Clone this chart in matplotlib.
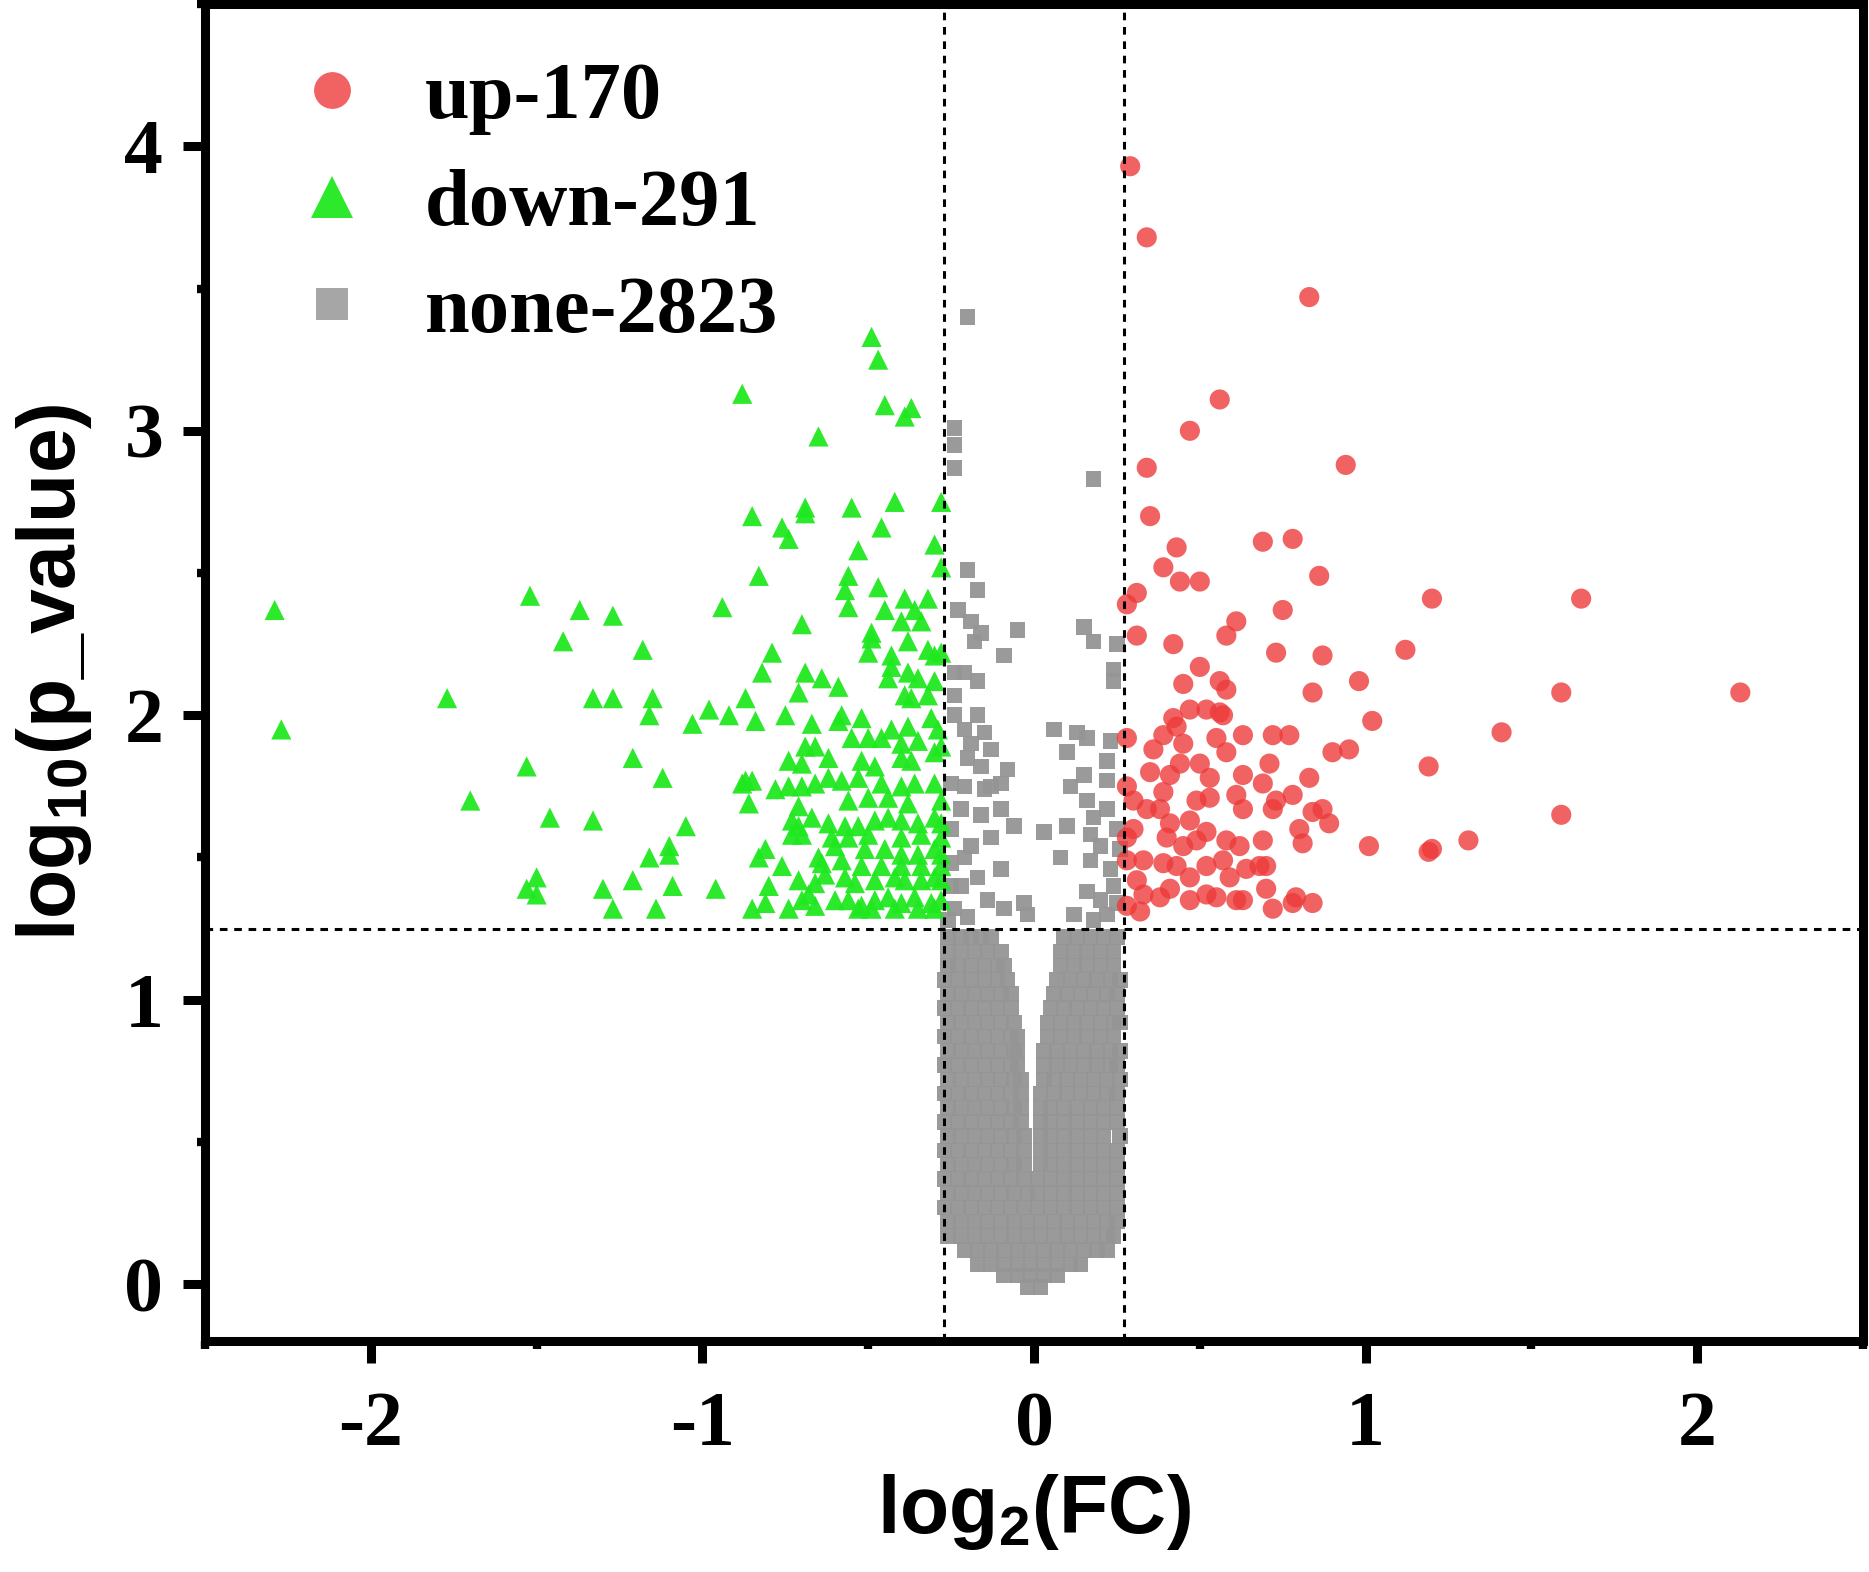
import matplotlib.pyplot as plt
from matplotlib.lines import Line2D
from matplotlib.ticker import MultipleLocator

plt.rcParams['mathtext.fontset'] = 'custom'
plt.rcParams['mathtext.rm'] = 'Liberation Sans:bold'
plt.rcParams['mathtext.it'] = 'Liberation Sans:bold'
plt.rcParams['mathtext.bf'] = 'Liberation Sans:bold'
plt.rcParams['axes.unicode_minus'] = False

# Dados (log2 FC, log10 p)
legenda = ["up-170", "down-291", "none-2823"]
fc_limite = 0.27
p_limite = 1.25

up_pts = [
    (0.29, 3.93), (0.34, 3.68), (0.83, 3.47), (0.56, 3.11), (0.47, 3.00), (0.94, 2.88), (0.34, 2.87),
    (0.35, 2.70), (0.43, 2.59), (0.69, 2.61), (0.78, 2.62), (0.39, 2.52), (0.44, 2.47), (0.50, 2.47),
    (0.86, 2.49), (0.31, 2.43), (0.28, 2.39), (0.75, 2.37), (0.61, 2.33), (0.58, 2.28), (0.31, 2.28),
    (0.42, 2.25), (0.73, 2.22), (0.87, 2.21), (1.12, 2.23), (0.50, 2.17), (0.45, 2.11), (0.56, 2.12),
    (0.58, 2.09), (0.84, 2.08), (0.98, 2.12), (0.47, 2.02), (0.52, 2.02), (0.56, 2.01), (0.57, 2.00),
    (0.42, 1.99), (1.02, 1.98), (0.43, 1.96), (0.39, 1.93), (0.45, 1.90), (0.55, 1.92), (0.63, 1.93),
    (0.72, 1.93), (0.77, 1.93), (0.28, 1.92), (0.36, 1.88), (0.58, 1.87), (0.90, 1.87), (0.95, 1.88),
    (0.44, 1.83), (0.50, 1.83), (0.71, 1.83), (0.35, 1.80), (0.41, 1.79), (0.53, 1.78), (0.63, 1.79),
    (0.69, 1.76), (0.83, 1.78), (0.28, 1.75), (0.39, 1.73), (0.30, 1.70), (0.34, 1.67), (0.49, 1.70),
    (0.53, 1.71), (0.61, 1.72), (0.63, 1.67), (0.72, 1.67), (0.73, 1.70), (0.78, 1.72), (0.87, 1.67),
    (0.84, 1.66), (0.89, 1.62), (0.80, 1.60), (0.81, 1.55), (1.01, 1.54), (0.38, 1.67), (0.47, 1.63),
    (0.41, 1.62), (0.30, 1.60), (0.28, 1.57), (0.40, 1.57), (0.45, 1.54), (0.49, 1.56), (0.52, 1.59),
    (0.58, 1.56), (0.62, 1.54), (0.69, 1.56), (0.28, 1.49), (0.33, 1.49), (0.39, 1.48), (0.43, 1.47),
    (0.47, 1.43), (0.52, 1.47), (0.57, 1.49), (0.64, 1.46), (0.68, 1.47), (0.70, 1.47), (0.59, 1.43),
    (0.70, 1.39), (0.31, 1.42), (0.33, 1.37), (0.38, 1.36), (0.41, 1.39), (0.47, 1.35), (0.52, 1.37),
    (0.55, 1.36), (0.61, 1.35), (0.63, 1.35), (0.72, 1.32), (0.79, 1.36), (0.78, 1.34), (0.84, 1.34),
    (0.28, 1.33), (0.32, 1.31), (1.20, 2.41), (1.65, 2.41), (1.59, 2.08), (2.13, 2.08), (1.41, 1.94),
    (1.19, 1.82), (1.59, 1.65), (1.19, 1.52), (1.20, 1.53), (1.31, 1.56),
]

down_pts = [
    (-2.29, 2.37), (-2.27, 1.95), (-1.52, 2.42), (-1.37, 2.37), (-1.27, 2.35), (-1.42, 2.26),
    (-1.18, 2.23), (-1.77, 2.06), (-1.33, 2.06), (-1.27, 2.06), (-1.15, 2.06), (-1.16, 2.00),
    (-1.03, 1.97), (-1.53, 1.82), (-1.21, 1.85), (-1.12, 1.78), (-1.70, 1.70), (-0.88, 1.76),
    (-1.46, 1.64), (-1.33, 1.63), (-1.05, 1.61), (-1.10, 1.54), (-1.16, 1.50), (-1.10, 1.51),
    (-1.50, 1.43), (-1.53, 1.39), (-1.50, 1.37), (-1.30, 1.39), (-1.21, 1.42), (-1.09, 1.40),
    (-1.27, 1.32), (-1.14, 1.32),
    (-0.49, 3.33), (-0.47, 3.25), (-0.88, 3.13), (-0.45, 3.09), (-0.37, 3.08), (-0.39, 3.05),
    (-0.65, 2.98), (-0.28, 2.75), (-0.42, 2.75), (-0.85, 2.70), (-0.69, 2.73), (-0.69, 2.71),
    (-0.55, 2.73), (-0.76, 2.66), (-0.74, 2.62), (-0.46, 2.66), (-0.53, 2.58), (-0.30, 2.60),
    (-0.28, 2.52), (-0.83, 2.49), (-0.56, 2.49), (-0.57, 2.44), (-0.47, 2.45), (-0.39, 2.41),
    (-0.32, 2.41), (-0.94, 2.38), (-0.56, 2.38), (-0.45, 2.37), (-0.36, 2.37), (-0.40, 2.33),
    (-0.34, 2.33), (-0.70, 2.32), (-0.49, 2.29),
    (-0.49, 2.27), (-0.38, 2.26), (-0.79, 2.22), (-0.50, 2.22), (-0.43, 2.21), (-0.32, 2.23),
    (-0.28, 2.22), (-0.30, 2.21), (-0.82, 2.15), (-0.69, 2.15), (-0.64, 2.13), (-0.59, 2.10),
    (-0.43, 2.17), (-0.44, 2.13), (-0.38, 2.15), (-0.35, 2.13), (-0.30, 2.12), (-0.87, 2.06),
    (-0.71, 2.08), (-0.39, 2.07), (-0.37, 2.06), (-0.32, 2.07), (-0.98, 2.02), (-0.92, 2.00),
    (-0.84, 1.98), (-0.75, 2.00), (-0.67, 1.97), (-0.58, 2.00), (-0.59, 1.98), (-0.52, 1.99),
    (-0.43, 1.95), (-0.38, 1.96), (-0.31, 1.99), (-0.29, 1.95), (-0.69, 1.89), (-0.66, 1.89),
    (-0.55, 1.92), (-0.50, 1.92), (-0.46, 1.92), (-0.40, 1.90), (-0.35, 1.91), (-0.28, 1.89),
    (-0.74, 1.84), (-0.70, 1.83), (-0.62, 1.85), (-0.52, 1.84), (-0.48, 1.82), (-0.40, 1.85),
    (-0.37, 1.84), (-0.30, 1.87), (-0.87, 1.77), (-0.85, 1.77), (-0.78, 1.74), (-0.74, 1.75),
    (-0.70, 1.75), (-0.66, 1.76), (-0.62, 1.78), (-0.58, 1.77), (-0.53, 1.78), (-0.46, 1.76),
    (-0.40, 1.75), (-0.36, 1.76), (-0.30, 1.76), (-0.86, 1.69), (-0.71, 1.68), (-0.56, 1.70),
    (-0.50, 1.71), (-0.44, 1.71), (-0.38, 1.69), (-0.28, 1.70), (-0.73, 1.63), (-0.71, 1.61),
    (-0.67, 1.64), (-0.62, 1.62), (-0.57, 1.61), (-0.53, 1.61), (-0.48, 1.63), (-0.44, 1.64),
    (-0.40, 1.63), (-0.35, 1.62), (-0.30, 1.64), (-0.28, 1.62), (-0.73, 1.58), (-0.70, 1.58),
    (-0.61, 1.57), (-0.56, 1.57), (-0.50, 1.58), (-0.40, 1.57), (-0.34, 1.58), (-0.28, 1.57),
    (-0.81, 1.53), (-0.76, 1.47), (-0.65, 1.50), (-0.60, 1.54), (-0.51, 1.53), (-0.45, 1.53),
    (-0.40, 1.51), (-0.35, 1.51), (-0.30, 1.53), (-0.28, 1.51), (-0.83, 1.50), (-0.64, 1.48),
    (-0.58, 1.49), (-0.52, 1.47), (-0.46, 1.47), (-0.40, 1.47), (-0.34, 1.47), (-0.28, 1.47),
    (-0.96, 1.39), (-0.80, 1.40), (-0.71, 1.42), (-0.66, 1.41), (-0.63, 1.44), (-0.57, 1.43),
    (-0.54, 1.41), (-0.48, 1.42), (-0.42, 1.43), (-0.39, 1.42), (-0.34, 1.42), (-0.30, 1.43),
    (-0.28, 1.42), (-0.85, 1.32), (-0.81, 1.34), (-0.70, 1.35), (-0.68, 1.37), (-0.66, 1.33),
    (-0.60, 1.35), (-0.56, 1.35), (-0.52, 1.33), (-0.48, 1.35), (-0.44, 1.36), (-0.40, 1.34),
    (-0.36, 1.36), (-0.31, 1.34), (-0.28, 1.35), (-0.74, 1.32), (-0.53, 1.32), (-0.49, 1.32),
    (-0.42, 1.32), (-0.35, 1.32), (-0.30, 1.32),
]

# pontos cinza soltos acima do limiar
none_pts = [
    (-0.20, 3.40), (-0.24, 3.01), (-0.24, 2.95), (-0.24, 2.87), (0.18, 2.83), (-0.20, 2.51),
    (-0.17, 2.44), (-0.23, 2.37), (-0.19, 2.33), (-0.16, 2.29), (-0.18, 2.26), (-0.05, 2.30),
    (-0.09, 2.21), (0.15, 2.31), (0.18, 2.26), (0.25, 2.25), (0.24, 2.16), (0.24, 2.12),
    (-0.24, 2.15), (-0.21, 2.15), (-0.24, 2.07), (-0.17, 2.12), (-0.24, 2.00), (-0.21, 1.95),
    (-0.17, 2.00), (-0.15, 1.94), (-0.13, 1.88), (-0.19, 1.90), (-0.20, 1.85), (-0.08, 1.81),
    (-0.16, 1.82), (-0.25, 1.76), (-0.21, 1.75), (-0.13, 1.75), (-0.10, 1.76), (-0.15, 1.74),
    (-0.22, 1.67), (-0.16, 1.65), (-0.10, 1.67), (-0.06, 1.61), (-0.13, 1.57), (-0.19, 1.54),
    (-0.10, 1.46), (-0.17, 1.43), (-0.22, 1.40), (-0.03, 1.34), (-0.14, 1.35), (-0.24, 1.32),
    (0.06, 1.95), (0.13, 1.94), (0.16, 1.92), (0.23, 1.91), (0.10, 1.87), (0.22, 1.84),
    (0.15, 1.79), (0.22, 1.77), (0.11, 1.75), (0.16, 1.70), (0.22, 1.67), (0.18, 1.64),
    (0.10, 1.61), (0.17, 1.58), (0.20, 1.54), (0.08, 1.50), (0.17, 1.49), (0.23, 1.46),
    (0.16, 1.38), (0.20, 1.35), (0.24, 1.40), (0.12, 1.30), (0.22, 1.30), (0.26, 1.53),
    (-0.09, 1.32), (-0.02, 1.30), (0.03, 1.59), (-0.26, 1.28), (-0.20, 1.29), (0.18, 1.28),
    (-0.25, 1.60), (-0.25, 1.48), (-0.21, 1.50), (-0.25, 1.40), (0.25, 1.60), (0.25, 1.34),
]

# bloco denso em V (linhas de y, com os x de cada linha)
faixa_y = [1.22, 1.17, 1.12, 1.07, 1.02, 0.97, 0.92, 0.87, 0.82, 0.77, 0.72, 0.67, 0.62,
           0.57, 0.52, 0.47, 0.42, 0.37, 0.32, 0.27, 0.22, 0.17, 0.12, 0.07, 0.03, -0.01]
faixa_x = [
    [-0.26, -0.22, -0.19, -0.16, -0.13, 0.09, 0.13, 0.17, 0.21, 0.25],
    [-0.26, -0.22, -0.18, -0.14, -0.10, 0.08, 0.12, 0.16, 0.20, 0.24],
    [-0.26, -0.23, -0.19, -0.15, -0.11, -0.09, 0.08, 0.12, 0.16, 0.20, 0.24],
    [-0.27, -0.23, -0.19, -0.15, -0.11, -0.08, 0.07, 0.11, 0.15, 0.19, 0.23, 0.26],
    [-0.26, -0.22, -0.18, -0.14, -0.10, -0.07, 0.06, 0.10, 0.14, 0.18, 0.22, 0.25],
    [-0.27, -0.23, -0.19, -0.15, -0.11, -0.07, 0.05, 0.09, 0.13, 0.17, 0.21, 0.25],
    [-0.26, -0.22, -0.18, -0.14, -0.10, -0.06, 0.04, 0.08, 0.12, 0.16, 0.20, 0.24, 0.26],
    [-0.27, -0.23, -0.19, -0.15, -0.11, -0.07, -0.05, 0.04, 0.08, 0.12, 0.16, 0.20, 0.24],
    [-0.26, -0.22, -0.18, -0.14, -0.10, -0.06, -0.05, 0.03, 0.07, 0.11, 0.15, 0.19, 0.23, 0.26],
    [-0.27, -0.23, -0.19, -0.15, -0.11, -0.07, -0.05, 0.03, 0.07, 0.11, 0.15, 0.19, 0.23, 0.25],
    [-0.26, -0.22, -0.18, -0.14, -0.10, -0.06, -0.04, 0.03, 0.06, 0.10, 0.14, 0.18, 0.22, 0.26],
    [-0.27, -0.23, -0.19, -0.15, -0.11, -0.07, -0.04, 0.02, 0.06, 0.10, 0.14, 0.18, 0.22, 0.25],
    [-0.26, -0.22, -0.18, -0.14, -0.10, -0.06, -0.04, 0.02, 0.05, 0.09, 0.13, 0.17, 0.21, 0.25],
    [-0.27, -0.23, -0.19, -0.15, -0.11, -0.07, -0.04, 0.02, 0.05, 0.09, 0.13, 0.17, 0.21, 0.25],
    [-0.26, -0.22, -0.18, -0.14, -0.10, -0.06, -0.03, 0.02, 0.05, 0.09, 0.13, 0.17, 0.21, 0.26],
    [-0.27, -0.23, -0.19, -0.15, -0.11, -0.07, -0.03, 0.02, 0.05, 0.09, 0.13, 0.17, 0.21, 0.25],
    [-0.26, -0.22, -0.18, -0.14, -0.10, -0.06, -0.03, 0.02, 0.05, 0.09, 0.13, 0.17, 0.21, 0.25],
    [-0.27, -0.23, -0.19, -0.15, -0.11, -0.07, -0.03, 0.01, 0.05, 0.09, 0.13, 0.17, 0.21, 0.25],
    [-0.26, -0.22, -0.18, -0.14, -0.10, -0.06, -0.02, 0.01, 0.05, 0.09, 0.13, 0.17, 0.21, 0.25],
    [-0.27, -0.23, -0.19, -0.15, -0.11, -0.07, -0.03, 0.01, 0.05, 0.09, 0.13, 0.17, 0.21, 0.25],
    [-0.26, -0.22, -0.18, -0.14, -0.10, -0.06, -0.02, 0.02, 0.06, 0.10, 0.14, 0.18, 0.22, 0.25],
    [-0.26, -0.22, -0.18, -0.14, -0.10, -0.06, -0.02, 0.02, 0.06, 0.10, 0.14, 0.18, 0.22, 0.24],
    [-0.21, -0.17, -0.13, -0.09, -0.05, -0.01, 0.03, 0.07, 0.11, 0.15, 0.19, 0.22],
    [-0.17, -0.13, -0.09, -0.05, -0.01, 0.03, 0.07, 0.11, 0.14],
    [-0.09, -0.05, -0.01, 0.03, 0.07],
    [-0.02, 0.02],
]

none_x = [p[0] for p in none_pts]
none_y = [p[1] for p in none_pts]
for y, linha in zip(faixa_y, faixa_x):
    for x in linha:
        none_x.append(x)
        none_y.append(y)

up_x = [p[0] for p in up_pts]
up_y = [p[1] for p in up_pts]
down_x = [p[0] for p in down_pts]
down_y = [p[1] for p in down_pts]

cor_up = "#EE3B3B"
cor_down = "#20E820"
cor_none = "#959595"

fig = plt.figure(figsize=(18.69, 15.72), dpi=100)
ax = fig.add_axes([0.1097, 0.1469, 0.8871, 0.8505])

ax.scatter(none_x, none_y, s=125, marker="s", color=cor_none, alpha=0.95, edgecolors="none", zorder=2)
ax.scatter(down_x, down_y, s=210, marker="^", color=cor_down, alpha=0.95, edgecolors="none", zorder=3)
ax.scatter(up_x, up_y, s=210, marker="o", color=cor_up, alpha=0.8, edgecolors="none", zorder=4)

estilo = dict(color="black", lw=2.2, linestyle=(0, (2.5, 2.2)), zorder=6)
ax.axvline(-fc_limite, **estilo)
ax.axvline(fc_limite, **estilo)
ax.axhline(p_limite, **estilo)

ax.set_xlim(-2.5, 2.5)
ax.set_ylim(-0.2, 4.5)
ax.xaxis.set_major_locator(MultipleLocator(1))
ax.xaxis.set_minor_locator(MultipleLocator(0.5))
ax.yaxis.set_major_locator(MultipleLocator(1))
ax.yaxis.set_minor_locator(MultipleLocator(0.5))

for lado in ["left", "right", "top", "bottom"]:
    ax.spines[lado].set_linewidth(6.5)

ax.tick_params(which="major", direction="out", length=16, width=6.5)
ax.tick_params(which="minor", direction="out", length=6, width=6)
ax.tick_params(axis="x", which="major", pad=20)
ax.tick_params(axis="y", which="major", pad=14)

for rotulo in ax.get_xticklabels() + ax.get_yticklabels():
    rotulo.set_fontfamily("Liberation Serif")
    rotulo.set_fontweight("bold")
    rotulo.set_fontsize(56)

ax.set_xlabel("log$_{2}$(FC)", fontfamily="Liberation Sans", fontweight="bold", fontsize=58, labelpad=7)
ax.set_ylabel("log$_{10}$(p_value)", fontfamily="Liberation Sans", fontweight="bold", fontsize=58, labelpad=22)

alcas = [
    Line2D([], [], marker="o", ls="none", markersize=26.5, color=cor_up, alpha=0.8, markeredgewidth=0),
    Line2D([], [], marker="^", ls="none", markersize=30, color=cor_down, alpha=0.95, markeredgewidth=0),
    Line2D([], [], marker="s", ls="none", markersize=23, color="#A6A6A6", markeredgewidth=0),
]
ax.legend(alcas, legenda, loc="upper left", bbox_to_anchor=(0.055, 0.957), frameon=False,
          handlelength=0.9, handletextpad=0.7, labelspacing=0.42, borderpad=0, borderaxespad=0,
          prop={"family": "Liberation Serif", "weight": "bold", "size": 58})

fig.savefig("out.png", dpi=100)
